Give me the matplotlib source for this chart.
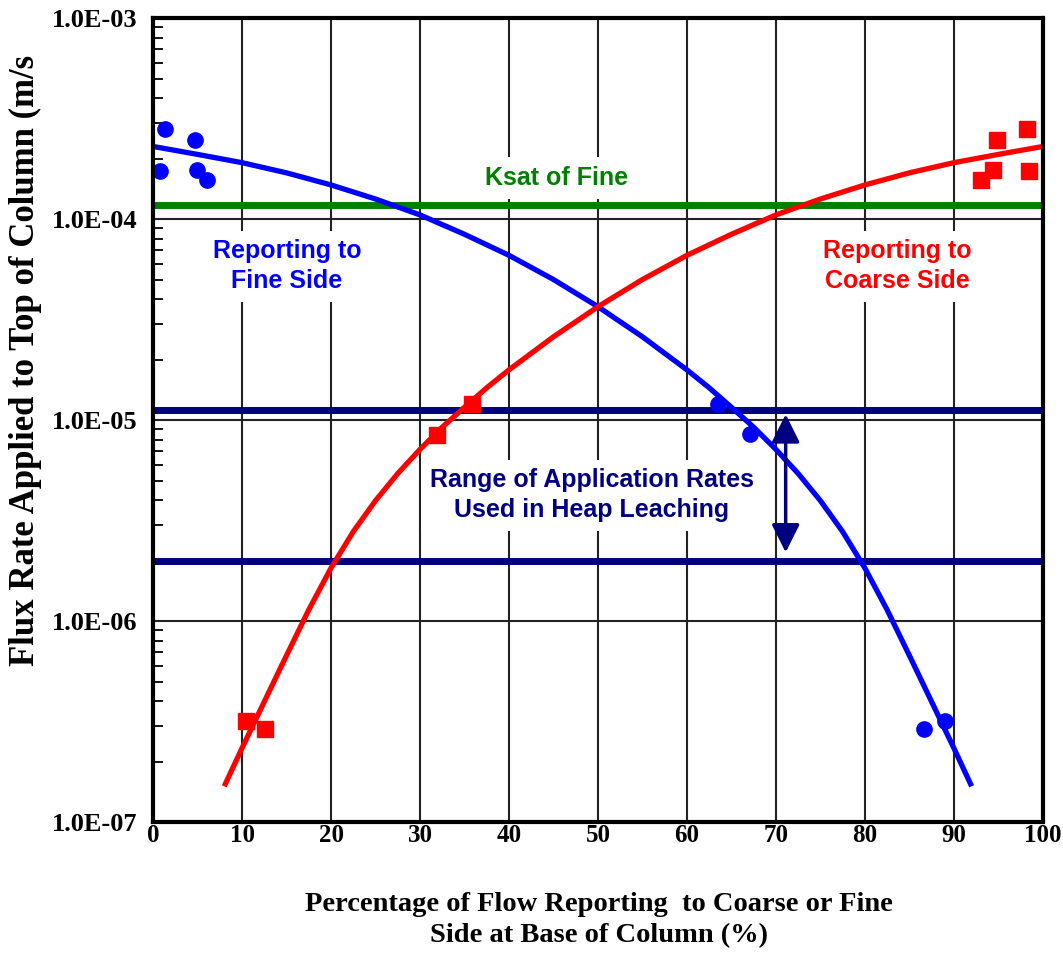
import matplotlib.pyplot as plt
from matplotlib.ticker import LogLocator, NullFormatter

# measured points, fine side (blue circles)
fine_x = [1.3, 4.7, 0.8, 4.9, 6.1, 63.5, 67.1, 86.6, 89.0]
fine_q = [2.8e-4, 2.47e-4, 1.73e-4, 1.75e-4, 1.56e-4, 1.2e-5, 8.5e-6, 2.9e-7, 3.2e-7]

# measured points, coarse side (red squares)
coarse_x = [10.4, 12.6, 31.9, 35.8, 93.1, 94.4, 94.8, 98.2, 98.5]
coarse_q = [3.2e-7, 2.9e-7, 8.4e-6, 1.2e-5, 1.56e-4, 1.75e-4, 2.47e-4, 2.8e-4, 1.73e-4]

# fitted curves
fine_fit_x = [0, 5, 10, 15, 20, 25, 30, 35, 40, 45, 50, 55, 60, 62.5, 65, 67.5,
              70, 72.5, 75, 77.5, 80, 82.5, 85, 87.5, 90, 92]
fine_fit_q = [2.30e-4, 2.10e-4, 1.91e-4, 1.70e-4, 1.48e-4, 1.26e-4, 1.05e-4, 8.41e-5,
              6.61e-5, 5.01e-5, 3.67e-5, 2.60e-5, 1.78e-5, 1.45e-5, 1.16e-5, 9.23e-6,
              7.16e-6, 5.43e-6, 3.98e-6, 2.79e-6, 1.84e-6, 1.14e-6, 6.76e-7, 3.98e-7,
              2.34e-7, 1.51e-7]
coarse_fit_x = [8, 10, 12.5, 15, 17.5, 20, 22.5, 25, 27.5, 30, 32.5, 35, 37.5, 40,
                45, 50, 55, 60, 65, 70, 75, 80, 85, 90, 95, 100]
coarse_fit_q = [1.51e-7, 2.34e-7, 3.98e-7, 6.76e-7, 1.14e-6, 1.84e-6, 2.79e-6, 3.98e-6,
                5.43e-6, 7.16e-6, 9.23e-6, 1.16e-5, 1.45e-5, 1.78e-5, 2.60e-5, 3.67e-5,
                5.01e-5, 6.61e-5, 8.41e-5, 1.05e-4, 1.26e-4, 1.48e-4, 1.70e-4, 1.91e-4,
                2.10e-4, 2.30e-4]

ksat_fine = 1.17e-4
rate_hi = 1.13e-5
rate_lo = 2.0e-6

serif = 'Liberation Serif'
sans = 'Liberation Sans'
navy = '#000080'

fig = plt.figure(figsize=(10.63, 9.55), dpi=100)
ax = fig.add_axes([0.144, 0.139, 0.837, 0.842])

ax.set_yscale('log')
ax.set_xlim(0, 100)
ax.set_ylim(1e-7, 1e-3)

# grid: vertical every 10, horizontal at decades
ax.set_xticks(range(0, 101, 10))
ax.set_yticks([1e-7, 1e-6, 1e-5, 1e-4, 1e-3])
ax.set_yticklabels(['1.0E-07', '1.0E-06', '1.0E-05', '1.0E-04', '1.0E-03'],
                   family=serif, fontweight='bold', fontsize=19)
ax.set_xticklabels([str(v) for v in range(0, 101, 10)], family=serif,
                   fontweight='bold', fontsize=18)
ax.yaxis.set_minor_locator(LogLocator(base=10, subs=range(2, 10)))
ax.yaxis.set_minor_formatter(NullFormatter())
ax.grid(True, which='major', color='#222222', linewidth=1.5)
ax.tick_params(axis='y', which='minor', direction='in', length=7, width=1.3)
ax.tick_params(axis='y', which='major', direction='in', length=0, pad=11)
ax.tick_params(axis='x', which='major', direction='in', length=0, pad=1)
for s in ax.spines.values():
    s.set_linewidth(3)
    s.set_zorder(6)
ax.set_axisbelow(True)

# horizontal reference lines
ax.axhline(ksat_fine, color='#008000', linewidth=5, zorder=2)
ax.axhline(rate_hi, color=navy, linewidth=5, zorder=2)
ax.axhline(rate_lo, color=navy, linewidth=5, zorder=2)

# fits
ax.plot(fine_fit_x, fine_fit_q, color='#0000ff', linewidth=3.8, zorder=3,
        solid_capstyle='butt', solid_joinstyle='round')
ax.plot(coarse_fit_x, coarse_fit_q, color='#ff0000', linewidth=3.8, zorder=3,
        solid_capstyle='butt', solid_joinstyle='round')

# data
ax.plot(fine_x, fine_q, 'o', color='#0000ff', markersize=11, zorder=4, clip_on=False)
ax.plot(coarse_x, coarse_q, 's', color='#ff0000', markersize=11, zorder=4, clip_on=False)

# range arrow
ax.annotate('', xy=(71.1, 2.2e-6), xytext=(71.1, 1.07e-5),
            arrowprops=dict(arrowstyle='<|-|>,head_length=0.9,head_width=0.45',
                            color=navy, lw=2.5, mutation_scale=19,
                            shrinkA=0, shrinkB=0), zorder=5)

# labels with white boxes that cut the grid
box = dict(facecolor='white', edgecolor='none', boxstyle='square,pad=0.35')
ax.text(45.4, 1.6e-4, 'Ksat of Fine', color='#008000', family=sans,
        fontweight='bold', fontsize=18, ha='center', va='center', bbox=box, zorder=1.5)
ax.text(15.06, 5.83e-5, 'Reporting to\nFine Side', color='#0000ff', family=sans,
        fontweight='bold', fontsize=18, ha='center', va='center', linespacing=1.3,
        bbox=box, zorder=1.5)
ax.text(83.7, 5.83e-5, 'Reporting to\nCoarse Side', color='#ff0000', family=sans,
        fontweight='bold', fontsize=18, ha='center', va='center', linespacing=1.3,
        bbox=box, zorder=1.5)
ax.text(49.3, 4.24e-6, 'Range of Application Rates\nUsed in Heap Leaching', color=navy,
        family=sans, fontweight='bold', fontsize=18, ha='center', va='center',
        linespacing=1.3, bbox=box, zorder=1.5)

ax.set_xlabel('Percentage of Flow Reporting  to Coarse or Fine\nSide at Base of Column (%)',
              family=serif, fontweight='bold', fontsize=20.5, linespacing=1.3)
ax.xaxis.set_label_coords(0.501, -0.087)
fig.text(25 / 1063, 1 - 360 / 955, 'Flux Rate Applied to Top of Column (m/s',
         family=serif, fontweight='bold', fontsize=25, rotation=90,
         ha='center', va='center')

fig.savefig('out.png', dpi=100)
